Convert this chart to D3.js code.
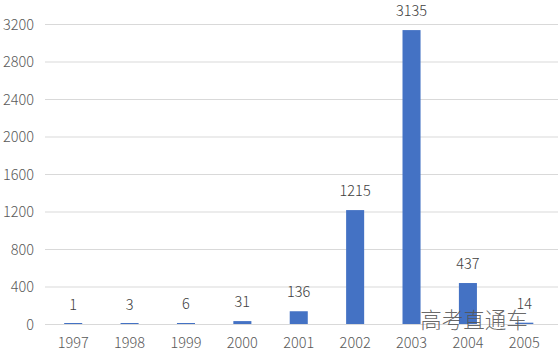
<!DOCTYPE html>
<html><head><meta charset="utf-8">
<script src="https://cdn.jsdelivr.net/npm/d3@7"></script>
<style>body{margin:0;background:#fff;}svg{display:block;}</style>
</head><body>
<script>
const categories = ["1997","1998","1999","2000","2001","2002","2003","2004","2005"];
const values = [1,3,6,31,136,1215,3135,437,14];
const yTicks = [0,400,800,1200,1600,2000,2400,2800,3200];

const W = 558, H = 361;
const svg = d3.select("body").append("svg").attr("width", W).attr("height", H);
const x = d3.scaleBand().domain(categories).range([45, 552.5]).paddingInner(0.68).paddingOuter(0.34);
const y = d3.scaleLinear().domain([0, 3200]).range([324, 24]);
const font = "'Noto Sans CJK SC', 'Noto Sans', sans-serif";
const txt = "#595959";

// gridlines
svg.append("g").selectAll("line").data(yTicks).join("line")
  .attr("x1", 45).attr("x2", W).attr("y1", d => y(d) + 0.5).attr("y2", d => y(d) + 0.5)
  .attr("stroke", "#d9d9d9").attr("stroke-width", 1);

// y axis labels
const yAxis = d3.axisLeft(y).tickValues(yTicks).tickFormat(d3.format("d")).tickSize(0).tickPadding(0);
const gy = svg.append("g").attr("transform", "translate(34,0)").call(yAxis);
gy.select(".domain").remove();
gy.selectAll("text").attr("font-family", font).attr("font-weight", 300).attr("font-size", 14.5).attr("fill", txt).attr("dy", "0.36em");

// x axis labels
const xAxis = d3.axisBottom(x).tickSize(0).tickPadding(0);
const gx = svg.append("g").attr("transform", "translate(0,337)").call(xAxis);
gx.select(".domain").remove();
gx.selectAll("text").attr("font-family", font).attr("font-weight", 300).attr("font-size", 14.5).attr("fill", txt).attr("dy", "0.74em");

// bars
svg.append("g").selectAll("rect").data(values).join("rect")
  .attr("x", (d, i) => x(categories[i]))
  .attr("width", x.bandwidth())
  .attr("y", d => Math.min(y(d), y(0) - 1))
  .attr("height", d => Math.max(y(0) - y(d), 1))
  .attr("fill", "#4472C4");

// value labels
svg.append("g").selectAll("text").data(values).join("text")
  .attr("x", (d, i) => x(categories[i]) + x.bandwidth() / 2)
  .attr("y", d => y(d) - 14)
  .attr("text-anchor", "middle")
  .attr("font-family", font).attr("font-weight", 300).attr("font-size", 14.5).attr("fill", "#404040")
  .text(d => d);

// watermark
svg.append("text").attr("x", 474).attr("y", 328).attr("text-anchor", "middle")
  .attr("font-family", "'Noto Sans CJK SC', sans-serif").attr("font-weight", 300).attr("font-size", 21.5)
  .attr("fill", "#555").attr("fill-opacity", 0.9).text("高考直通车");
</script>
</body></html>
